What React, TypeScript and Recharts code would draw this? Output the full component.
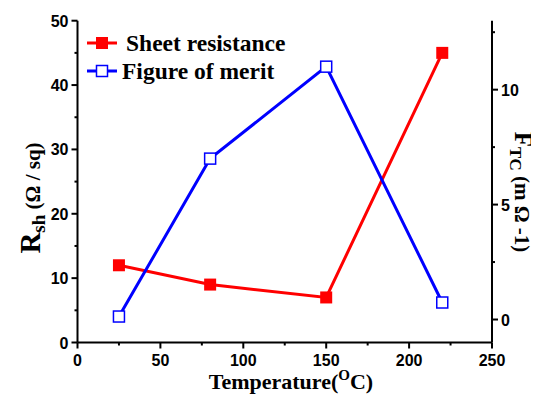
import { LineChart, Line, XAxis, YAxis } from "recharts";

// temperatures (°C)
const temperatures = [25, 80, 150, 220];
// sheet resistance R_sh (Ω / sq), left axis
const sheetResistance = [12, 9, 7, 45];
// figure of merit F_TC (m Ω^-1), right axis
const figureOfMerit = [0.13, 7.0, 11.0, 0.74];

const xTicks = [0, 25, 50, 75, 100, 125, 150, 175, 200, 225, 250];
const leftTicks = [0, 5, 10, 15, 20, 25, 30, 35, 40, 45, 50];
const rightTicks = [0, 2.5, 5, 7.5, 10, 12.5];

const data = temperatures.map((t, i) => ({
    t,
    rsh: sheetResistance[i],
    fom: figureOfMerit[i],
}));

const TICK_FONT = {
    fontFamily: "'Liberation Sans', Arial, sans-serif",
    fontWeight: 700,
    fontSize: 16,
    fill: "#000",
};
const SERIF = "'Liberation Serif', 'Times New Roman', serif";

const BottomTick = (props: any) => {
    const { x, y, payload } = props;
    const v = payload.value;
    const major = v % 50 === 0;
    return (
        <g>
            <line x1={x} x2={x} y1={y} y2={y + (major ? 6 : 3)} stroke="#000" strokeWidth={2} />
            {major && (
                <text x={x} y={y + 23} textAnchor="middle" {...TICK_FONT}>
                    {v}
                </text>
            )}
        </g>
    );
};

const TopTick = (props: any) => {
    const { x, y, payload } = props;
    const major = payload.value % 50 === 0;
    return <line x1={x} x2={x} y1={y} y2={y + (major ? 5 : 3)} stroke="#000" strokeWidth={2} />;
};

const LeftTick = (props: any) => {
    const { x, y, payload } = props;
    const v = payload.value;
    const major = v % 10 === 0;
    return (
        <g>
            <line x1={x} x2={x - (major ? 6 : 3)} y1={y} y2={y} stroke="#000" strokeWidth={2} />
            {major && (
                <text x={x - 9} y={y + 6} textAnchor="end" {...TICK_FONT}>
                    {v}
                </text>
            )}
        </g>
    );
};

const RightTick = (props: any) => {
    const { x, y, payload } = props;
    const v = payload.value;
    const major = v % 5 === 0;
    return (
        <g>
            <line x1={x} x2={x + (major ? 6 : 3)} y1={y} y2={y} stroke="#000" strokeWidth={2} />
            {major && (
                <text x={x + 9} y={y + 6} textAnchor="start" {...TICK_FONT}>
                    {v}
                </text>
            )}
        </g>
    );
};

const FilledSquare = (props: any) => {
    const { cx, cy } = props;
    return <rect x={cx - 6} y={cy - 6} width={12} height={12} fill="#ff0000" />;
};

const HollowSquare = (props: any) => {
    const { cx, cy } = props;
    return (
        <rect x={cx - 5.5} y={cy - 5.5} width={11} height={11} fill="#fff" stroke="#0000ff" strokeWidth={1.5} />
    );
};

export default function App() {
    return (
        <div style={{ position: "relative", width: 539, height: 394 }}>
            <LineChart
                width={539}
                height={394}
                data={data}
                margin={{ top: 12.7, right: 15, bottom: 19.5, left: 9.5 }}
            >
                <XAxis
                    xAxisId="bottom"
                    dataKey="t"
                    type="number"
                    domain={[0, 250]}
                    ticks={xTicks}
                    interval={0}
                    height={40}
                    tickSize={0}
                    tickMargin={0}
                    tickLine={false}
                    axisLine={{ stroke: "#000", strokeWidth: 2 }}
                    tick={<BottomTick />}
                />
                <XAxis
                    xAxisId="top"
                    orientation="top"
                    dataKey="t"
                    type="number"
                    domain={[0, 250]}
                    ticks={xTicks}
                    interval={0}
                    height={0}
                    tickSize={0}
                    tickMargin={0}
                    tickLine={false}
                    axisLine={{ stroke: "#000", strokeWidth: 2 }}
                    tick={<TopTick />}
                />
                <YAxis
                    yAxisId="left"
                    domain={[0, 50]}
                    ticks={leftTicks}
                    interval={0}
                    width={60}
                    tickSize={0}
                    tickMargin={0}
                    tickLine={false}
                    axisLine={{ stroke: "#000", strokeWidth: 2 }}
                    tick={<LeftTick />}
                />
                <YAxis
                    yAxisId="right"
                    orientation="right"
                    domain={[-1, 13]}
                    ticks={rightTicks}
                    interval={0}
                    width={40}
                    tickSize={0}
                    tickMargin={0}
                    tickLine={false}
                    axisLine={{ stroke: "#000", strokeWidth: 2 }}
                    tick={<RightTick />}
                />
                <Line
                    xAxisId="bottom"
                    yAxisId="left"
                    dataKey="rsh"
                    type="linear"
                    stroke="#ff0000"
                    strokeWidth={3}
                    dot={<FilledSquare />}
                    activeDot={false}
                    isAnimationActive={false}
                />
                <Line
                    xAxisId="bottom"
                    yAxisId="right"
                    dataKey="fom"
                    type="linear"
                    stroke="#0000ff"
                    strokeWidth={3}
                    dot={<HollowSquare />}
                    activeDot={false}
                    isAnimationActive={false}
                />
            </LineChart>

            {/* legend */}
            <svg
                width={240}
                height={60}
                style={{ position: "absolute", left: 78, top: 22, overflow: "visible" }}
            >
                <line x1={1} x2={31} y1={13} y2={13} stroke="#ff0000" strokeWidth={3} />
                <rect x={10} y={7} width={12} height={12} fill="#ff0000" />
                <text x={40} y={21} fontFamily={SERIF} fontWeight={700} fontSize={23.5} fill="#000">
                    Sheet resistance
                </text>
                <line x1={1} x2={31} y1={41} y2={41} stroke="#0000ff" strokeWidth={3} />
                <rect x={10.5} y={35.5} width={11} height={11} fill="#fff" stroke="#0000ff" strokeWidth={1.5} />
                <text x={36} y={49} fontFamily={SERIF} fontWeight={700} fontSize={23.5} fill="#000">
                    Figure of merit
                </text>
            </svg>

            {/* axis titles */}
            <svg width={539} height={394} style={{ position: "absolute", left: 0, top: 0, pointerEvents: "none", overflow: "visible" }}>
                <text x={283} y={381} textAnchor="middle" fontFamily={SERIF} fontWeight={700} fontSize={22} fill="#000">
                    Temperature(
                    <tspan fontSize={15} dy={-9}>O</tspan>
                    <tspan dy={9}>C)</tspan>
                </text>
                <text
                    transform="translate(32 190) rotate(-90)"
                    textAnchor="middle"
                    fontFamily={SERIF}
                    fontWeight={700}
                    fill="#000"
                >
                    <tspan fontSize={29}>R</tspan>
                    <tspan fontSize={19} dy={5}>sh</tspan>
                    <tspan fontSize={21} dy={-5}> (Ω / sq)</tspan>
                </text>
                <text
                    transform="translate(507 184) rotate(90)"
                    textAnchor="middle"
                    fontFamily={SERIF}
                    fontWeight={700}
                    fill="#000"
                >
                    <tspan fontSize={25}>F</tspan>
                    <tspan fontSize={17} dy={5}>TC</tspan>
                    <tspan fontSize={21} dy={-5}> (m Ω -1)</tspan>
                </text>
            </svg>
        </div>
    );
}
